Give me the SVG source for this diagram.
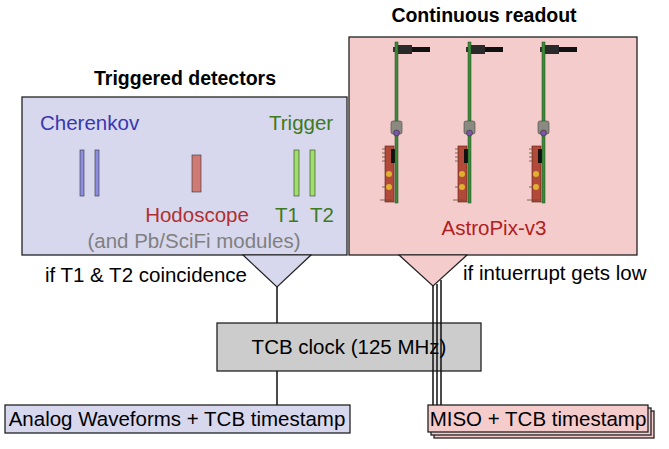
<svg xmlns="http://www.w3.org/2000/svg" width="669" height="449" viewBox="0 0 669 449">
<style>
text{font-family:"Liberation Sans",Arial,sans-serif;font-size:20.5px}
.b{font-weight:bold;font-size:19.5px}
.box{stroke:#222;stroke-width:1.3}
.ln{stroke:#111;stroke-width:1.5;fill:none}
</style>
<defs>
<g id="board">
<rect x="-3" y="5" width="6" height="5" fill="#333"/>
<rect x="1" y="3" width="15" height="9" fill="#2a2a2a"/>
<rect x="16" y="5" width="18" height="5" fill="#111"/>
<rect x="-11" y="104" width="9" height="56" fill="#b24a3a" stroke="#5a1a14" stroke-width="0.6"/>
<rect x="-5" y="107" width="4" height="14" fill="#111"/>
<circle cx="-7" cy="132" r="3" fill="#e0b030"/>
<circle cx="-7" cy="145" r="3" fill="#e0b030"/>
<path d="M-14 107h4M-14 111h4M-14 115h4M-14 119h4M-14 145h4M-16 158h12" stroke="#6a4a30" stroke-width="0.8"/>
<rect x="-1" y="0" width="3" height="161" fill="#3e8a3a" stroke="#1e4a1e" stroke-width="0.5"/>
<rect x="-5" y="79" width="11" height="13" rx="2" fill="#8a8a80" stroke="#444" stroke-width="0.6"/>
<circle cx="0.5" cy="91" r="3" fill="#7a55a8" stroke="#333" stroke-width="0.6"/>
</g>
</defs>
<g id="triggered">
<rect class="box" x="22" y="97" width="325" height="158" fill="#d7d7ee"/>
<text x="185" y="85" text-anchor="middle" class="b">Triggered detectors</text>
<text x="40" y="130" fill="#3838b0">Cherenkov</text>
<text x="269" y="130" fill="#3d7a22">Trigger</text>
<rect x="80" y="150" width="4" height="46" fill="#8c8ce0" stroke="#333" stroke-width="0.6"/>
<rect x="95" y="150" width="4" height="46" fill="#8c8ce0" stroke="#333" stroke-width="0.6"/>
<rect x="192" y="155" width="9" height="37" fill="#cf7a74" stroke="#333" stroke-width="0.6"/>
<rect x="294" y="150" width="5" height="46" fill="#9de06a" stroke="#333" stroke-width="0.6"/>
<rect x="310" y="150" width="5" height="46" fill="#9de06a" stroke="#333" stroke-width="0.6"/>
<text x="197" y="222" text-anchor="middle" fill="#b03030">Hodoscope</text>
<text x="287" y="222" text-anchor="middle" fill="#3d7a22">T1</text>
<text x="322" y="222" text-anchor="middle" fill="#3d7a22">T2</text>
<text x="194" y="248" text-anchor="middle" fill="#808080">(and Pb/SciFi modules)</text>
</g>
<g id="continuous">
<rect class="box" x="349" y="37" width="288" height="218" fill="#f4cccc"/>
<text x="484" y="22" text-anchor="middle" class="b">Continuous readout</text>
<use href="#board" x="396" y="42"/>
<use href="#board" x="469" y="42"/>
<use href="#board" x="543" y="42"/>
<text x="494" y="235" text-anchor="middle" fill="#b02020">AstroPix-v3</text>
</g>
<g id="tcb">
<rect class="box" x="217" y="323" width="264" height="48" fill="#cccccc"/>
<text x="349" y="354" text-anchor="middle">TCB clock (125 MHz)</text>
</g>
<g id="analog">
<rect class="box" x="5" y="405" width="345" height="28" fill="#d7d7ee"/>
<text x="177" y="426" text-anchor="middle">Analog Waveforms + TCB timestamp</text>
</g>
<g id="miso">
<rect class="box" x="434" y="411" width="220" height="27" fill="#f4cccc"/>
<rect class="box" x="431" y="408" width="220" height="27" fill="#f4cccc"/>
<rect class="box" x="428" y="405" width="220" height="27" fill="#f4cccc"/>
<text x="538" y="426" text-anchor="middle">MISO + TCB timestamp</text>
</g>
<g id="connectors">
<polygon points="243,255 311,255 277,287" fill="#d7d7ee" stroke="#222" stroke-width="1.2"/>
<polygon points="399,255 467,255 433,286" fill="#f4cccc" stroke="#222" stroke-width="1.2"/>
<path class="ln" d="M277 287V323M277 371V405"/>
<path class="ln" d="M433 286V405M437 284V405M441 280V405"/>
<text x="247" y="282" text-anchor="end">if T1 &amp; T2 coincidence</text>
<text x="463" y="280">if intuerrupt gets low</text>
</g>
</svg>
